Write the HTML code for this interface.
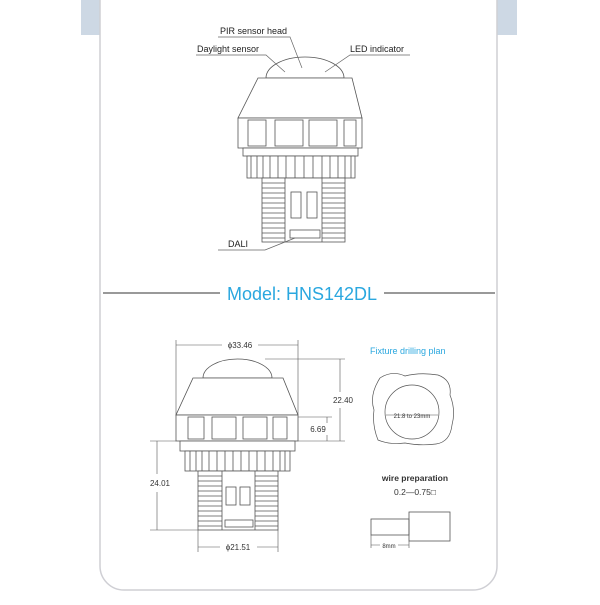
<!DOCTYPE html>
<html><head><style>
body{margin:0;width:600px;height:600px;background:#fff;overflow:hidden;font-family:"Liberation Sans",sans-serif}
</style></head><body>
<svg width="600" height="600" viewBox="0 0 600 600" xmlns="http://www.w3.org/2000/svg" font-family="Liberation Sans, sans-serif">
<rect x="81" y="0" width="436" height="35" fill="#cdd8e4"/>
<rect x="100" y="-30" width="397" height="620" rx="24" fill="#fff" stroke="#cfcfd4" stroke-width="1.5"/>
<g fill="#fff" stroke="#555" stroke-width="0.8">
<!-- top device -->
<path d="M266 78 A39 21 0 0 1 344 78 Z"/>
<path d="M258 78 L352 78 L362 118 L238 118 Z"/>
<rect x="238" y="118" width="124" height="30"/>
<rect x="248" y="120" width="18" height="26"/><rect x="275" y="120" width="28" height="26"/><rect x="309" y="120" width="28" height="26"/><rect x="344" y="120" width="12" height="26"/>
<rect x="243" y="148" width="115" height="8"/>
<rect x="247" y="156" width="108" height="22"/>
<path d="M251 156v22M257 156v22M263 156v22M270 156v22M278 156v22M286 156v22M295 156v22M304 156v22M313 156v22M322 156v22M330 156v22M338 156v22M345 156v22M351 156v22"/>
<rect x="262" y="178" width="83" height="64"/>
<path d="M262 183h23M262 188h23M262 193h23M262 198h23M262 203h23M262 208h23M262 213h23M262 218h23M262 223h23M262 228h23M262 233h23M262 238h23M322 183h23M322 188h23M322 193h23M322 198h23M322 203h23M322 208h23M322 213h23M322 218h23M322 223h23M322 228h23M322 233h23M322 238h23M285 178v64M322 178v64"/>
<rect x="291" y="192" width="10" height="26"/><rect x="307" y="192" width="10" height="26"/>
<rect x="290" y="230" width="30" height="8"/>
<!-- bottom device -->
<path d="M203 378 A34.5 19 0 0 1 272 378 Z"/>
<path d="M193 378 L283 378 L298 415 L176 415 Z"/>
<rect x="176" y="415" width="122" height="26"/>
<rect x="188" y="417" width="16" height="22"/><rect x="212" y="417" width="24" height="22"/><rect x="243" y="417" width="24" height="22"/><rect x="273" y="417" width="14" height="22"/>
<rect x="180" y="441" width="115" height="10"/>
<rect x="185" y="451" width="105" height="20"/>
<path d="M190 451v20M196 451v20M202 451v20M209 451v20M217 451v20M225 451v20M233 451v20M241 451v20M249 451v20M257 451v20M265 451v20M273 451v20M280 451v20M285 451v20"/>
<rect x="198" y="471" width="80" height="59"/>
<path d="M198 476h24M198 481h24M198 486h24M198 491h24M198 496h24M198 501h24M198 506h24M198 511h24M198 516h24M198 521h24M198 526h24M255 476h23M255 481h23M255 486h23M255 491h23M255 496h23M255 501h23M255 506h23M255 511h23M255 516h23M255 521h23M255 526h23M222 471v59M255 471v59"/>
<rect x="226" y="487" width="10" height="18"/><rect x="240" y="487" width="10" height="18"/>
<rect x="225" y="520" width="28" height="7"/>
</g>
<g stroke="#666" stroke-width="0.7" fill="none">
<path d="M218 37H290L302 68"/><path d="M196 55H266L285 72"/><path d="M410 55H350L325 72"/><path d="M218 250H265L295 238"/>
</g>
<g font-size="9" fill="#222">
<text x="220" y="34">PIR sensor head</text>
<text x="197" y="52">Daylight sensor</text>
<text x="350" y="52">LED indicator</text>
<text x="228" y="247">DALI</text>
</g>
<line x1="103" y1="293" x2="220" y2="293" stroke="#333" stroke-width="1"/>
<line x1="384" y1="293" x2="495" y2="293" stroke="#333" stroke-width="1"/>
<text x="302" y="300" text-anchor="middle" font-size="18" fill="#2aa7df">Model: HNS142DL</text>
<g stroke="#555" stroke-width="0.6" fill="none">
<path d="M176 340V415M298 340V415M176 345H222M258 345H298"/>
<path d="M265 359H345M298 441H345M340 359V392M340 408V441M298 417H332M327 417V423M327 435V441"/>
<path d="M150 441H176M150 530H198M157 441V474M157 492V530"/>
<path d="M198 530V552M278 530V552M198 547H220M257 547H278"/>
</g>
<g font-size="8" fill="#333" text-anchor="middle">
<text x="240" y="348">ϕ33.46</text>
<text x="343" y="403">22.40</text>
<text x="318" y="432">6.69</text>
<text x="160" y="486">24.01</text>
<text x="238" y="550">ϕ21.51</text>
</g>
<text x="370" y="354" font-size="9" fill="#2aa7df">Fixture drilling plan</text>
<path d="M380 378 Q392 370 405 376 Q420 372 438 375 Q452 380 450 395 Q456 410 452 425 Q450 442 436 444 Q420 446 405 443 Q390 445 378 440 Q372 425 374 410 Q369 395 380 378 Z" fill="none" stroke="#555" stroke-width="0.7"/>
<circle cx="412" cy="412" r="27" fill="none" stroke="#555" stroke-width="0.7"/>
<line x1="386" y1="415" x2="438" y2="415" stroke="#555" stroke-width="0.5"/>
<text x="412" y="418" font-size="6" text-anchor="middle" fill="#333">21.8 to 23mm</text>
<text x="415" y="481" font-size="8.5" font-weight="bold" text-anchor="middle" fill="#333">wire preparation</text>
<text x="415" y="495" font-size="8.5" text-anchor="middle" fill="#333">0.2—0.75□</text>
<rect x="371" y="519" width="38" height="16" fill="none" stroke="#555" stroke-width="0.8"/>
<rect x="409" y="512" width="41" height="29" fill="none" stroke="#555" stroke-width="0.8"/>
<path d="M371 535V548M409 541V548M371 545H380M398 545H409" stroke="#555" stroke-width="0.6"/>
<text x="389" y="548" font-size="6" text-anchor="middle" fill="#333">8mm</text>
</svg>
</body></html>
